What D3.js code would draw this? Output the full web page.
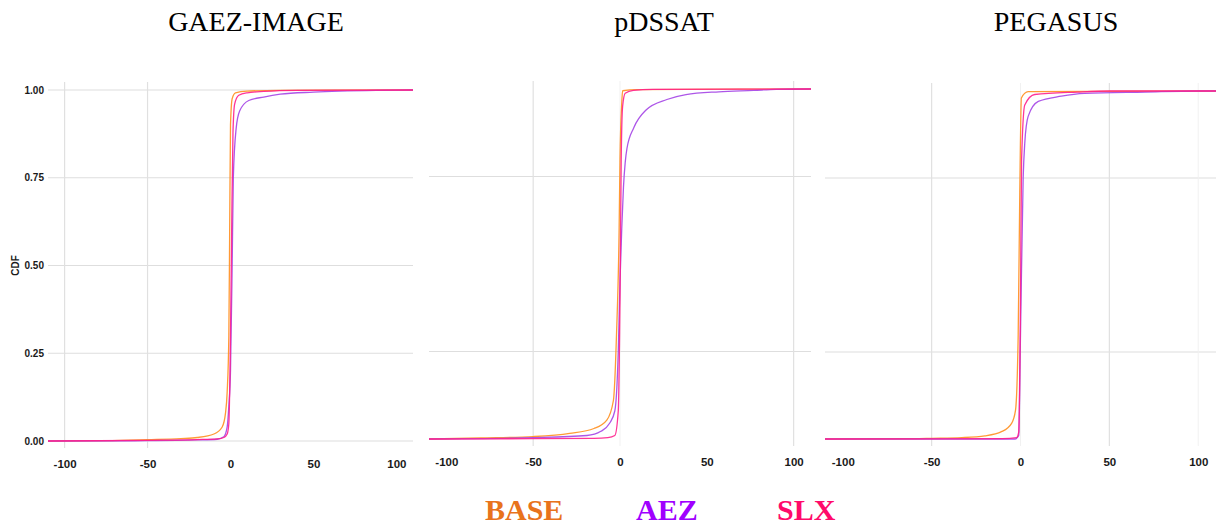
<!DOCTYPE html>
<html>
<head>
<meta charset="utf-8">
<script src="https://cdn.jsdelivr.net/npm/d3@7"></script>
<style>
  html, body { margin: 0; padding: 0; background: #fff; }
  svg { display: block; }
</style>
</head>
<body>
<svg id="chart" width="1216" height="527"></svg>
<script>
// NOTE: chart data
const models = ['GAEZ-IMAGE', 'pDSSAT', 'PEGASUS']
const scenarios = ['BASE', 'AEZ', 'SLX']
const xTicks = [-100, -50, 0, 50, 100]
const yTicks = [0, 0.25, 0.5, 0.75, 1]

// NOTE: [change, cdf] pairs per model and scenario
const gaezBase = [[-110, 0], [-75, 0.001], [-50, 0.004], [-30, 0.007], [-20, 0.01], [-10, 0.02], [-5, 0.04], [-3, 0.08], [-2, 0.14], [-1, 0.3], [-0.5, 0.6], [0, 0.9], [1, 0.975], [3, 0.992], [10, 0.997], [30, 0.999], [110, 1]]
const gaezAez = [[-110, 0], [-50, 0.001], [-20, 0.003], [-8, 0.005], [-4, 0.012], [-2, 0.04], [-1, 0.1], [0, 0.2], [1, 0.5], [1.7, 0.75], [3.4, 0.89], [5.5, 0.94], [11, 0.97], [20, 0.98], [30, 0.988], [50, 0.994], [88, 0.999], [110, 1]]
const gaezSlx = [[-110, 0], [-50, 0.002], [-20, 0.004], [-8, 0.006], [-4, 0.01], [-2, 0.02], [-1, 0.05], [0, 0.3], [0.7, 0.6], [1.5, 0.88], [2.5, 0.96], [5, 0.985], [10, 0.992], [20, 0.996], [40, 0.999], [110, 1]]

const dssatBase = [[-110, 0], [-80, 0.003], [-50, 0.007], [-29, 0.016], [-15, 0.03], [-7.6, 0.054], [-3.8, 0.11], [-2, 0.3], [-0.5, 0.6], [0, 0.8], [1, 0.96], [1.5, 0.995], [10, 0.998], [110, 1]]
const dssatAez = [[-110, 0], [-50, 0.004], [-19, 0.01], [-11, 0.022], [-6, 0.045], [-3, 0.08], [-2, 0.13], [-1, 0.25], [0, 0.45], [1, 0.6], [2, 0.72], [3, 0.79], [4, 0.83], [8, 0.89], [15, 0.94], [27, 0.97], [38, 0.984], [57, 0.992], [77, 0.996], [90, 0.999], [110, 1]]
const dssatSlx = [[-110, 0], [-50, 0.001], [-15, 0.002], [-7, 0.004], [-3, 0.01], [-1, 0.08], [0, 0.4], [0.7, 0.8], [1.5, 0.95], [3, 0.988], [7.7, 0.996], [19, 0.999], [110, 1]]

const pegasusBase = [[-110, 0], [-60, 0.001], [-50, 0.002], [-33, 0.004], [-20, 0.009], [-10.7, 0.021], [-5, 0.045], [-2.8, 0.083], [-1.3, 0.3], [-0.4, 0.71], [0.5, 0.98], [4.3, 0.998], [110, 1]]
const pegasusAez = [[-110, 0], [-3, 0], [-1, 0.01], [0, 0.3], [1.5, 0.75], [2.4, 0.85], [4.3, 0.927], [10, 0.97], [23, 0.985], [36, 0.993], [70, 0.997], [100, 1], [110, 1]]
const pegasusSlx = [[-110, 0], [-10, 0.001], [-2.2, 0.004], [-1, 0.02], [0, 0.4], [0.6, 0.8], [2.4, 0.96], [8, 0.99], [32, 0.997], [50, 1], [110, 1]]

const seriesByModel = [
  [gaezBase, gaezAez, gaezSlx],
  [dssatBase, dssatAez, dssatSlx],
  [pegasusBase, pegasusAez, pegasusSlx],
]

// NOTE: layout of the three panels (pixels)
const panels = [
  { left: 48, right: 413, zeroY: 441, oneY: 90, titleX: 256, yAxis: true, xGrid: [-100, -50], xFaint: [], yGrid: [0, 0.25, 0.5, 0.75, 1] },
  { left: 429, right: 811, zeroY: 439, oneY: 89, titleX: 664, yAxis: false, xGrid: [-50, 100], xFaint: [0], yGrid: [0.25, 0.75] },
  { left: 825, right: 1216, zeroY: 439, oneY: 91, titleX: 1056, yAxis: false, xGrid: [-50, 50], xFaint: [0, 100], yGrid: [0.25, 0.75] },
]

const lineColors = ['#ff8f1f', '#a444e6', '#ff1f8c']
const legendColors = ['#e8731c', '#a000ff', '#ff0a6a']
const legendX = [485, 636, 777]

const svg = d3.select('#chart')

panels.forEach((p, i) => {
  const unit = p.zeroY - p.oneY
  const x = d3.scaleLinear().domain([-110, 110]).range([p.left, p.right])
  const y = d3.scaleLinear().domain([0, 1]).range([p.zeroY, p.oneY])
  const top = p.oneY - 0.023 * unit
  const bottom = p.zeroY + 0.02 * unit

  const g = svg.append('g').attr('class', 'panel')

  // NOTE: grid lines
  g.selectAll('line.hgrid')
    .data(p.yGrid)
    .join('line')
    .attr('class', 'hgrid')
    .attr('x1', p.left)
    .attr('x2', p.right)
    .attr('y1', (d) => y(d))
    .attr('y2', (d) => y(d))
    .attr('stroke', '#dedede')
    .attr('stroke-width', 1.2)

  g.selectAll('line.vgrid')
    .data(p.xGrid)
    .join('line')
    .attr('class', 'vgrid')
    .attr('x1', (d) => x(d))
    .attr('x2', (d) => x(d))
    .attr('y1', top)
    .attr('y2', bottom)
    .attr('stroke', '#e0e0e0')
    .attr('stroke-width', 1.2)

  g.selectAll('line.vfaint')
    .data(p.xFaint)
    .join('line')
    .attr('class', 'vfaint')
    .attr('x1', (d) => x(d))
    .attr('x2', (d) => x(d))
    .attr('y1', top)
    .attr('y2', bottom)
    .attr('stroke', '#f1f1f1')
    .attr('stroke-width', 1)

  // NOTE: x axis labels, plain hyphen as in the source
  const xAxis = d3.axisBottom(x).tickValues(xTicks).tickFormat((d) => String(d)).tickSize(0).tickPadding(0)
  const ax = g.append('g')
    .attr('transform', `translate(0,${p.zeroY + 19})`)
    .call(xAxis)
  ax.select('.domain').remove()
  ax.selectAll('text')
    .attr('font-family', 'Liberation Sans, Arial, sans-serif')
    .attr('font-size', 11.5)
    .attr('font-weight', 'bold')
    .attr('fill', '#1a1a1a')

  // NOTE: y axis only on the first panel
  if (p.yAxis) {
    const yAxis = d3.axisLeft(y).tickValues(yTicks).tickFormat(d3.format('.2f')).tickSize(0).tickPadding(0)
    const ay = g.append('g')
      .attr('transform', `translate(${p.left - 4},0)`)
      .call(yAxis)
    ay.select('.domain').remove()
    ay.selectAll('text')
      .attr('font-family', 'Liberation Sans, Arial, sans-serif')
      .attr('font-size', 10)
      .attr('font-weight', 'bold')
      .attr('fill', '#1a1a1a')

    g.append('text')
      .attr('transform', `translate(19,${y(0.5)}) rotate(-90)`)
      .attr('text-anchor', 'middle')
      .attr('font-family', 'Liberation Sans, Arial, sans-serif')
      .attr('font-size', 10)
      .attr('font-weight', 'bold')
      .attr('fill', '#1a1a1a')
      .text('CDF')
  }

  // NOTE: cdf curves
  const line = d3.line()
    .x((d) => x(d[0]))
    .y((d) => y(d[1]))
    .curve(d3.curveMonotoneX)

  seriesByModel[i].forEach((s, k) => {
    g.append('path')
      .attr('d', line(s))
      .attr('fill', 'none')
      .attr('stroke', lineColors[k])
      .attr('stroke-width', 1.3)
      .attr('stroke-opacity', 0.9)
  })

  // NOTE: model title
  svg.append('text')
    .attr('x', p.titleX)
    .attr('y', 31)
    .attr('text-anchor', 'middle')
    .attr('font-family', 'Liberation Serif, Times New Roman, serif')
    .attr('font-size', 28)
    .attr('fill', '#000')
    .text(models[i])
})

// NOTE: legend
svg.selectAll('text.legend')
  .data(scenarios)
  .join('text')
  .attr('class', 'legend')
  .attr('x', (d, i) => legendX[i])
  .attr('y', 520)
  .attr('font-family', 'Liberation Serif, Times New Roman, serif')
  .attr('font-size', 30)
  .attr('font-weight', 'bold')
  .attr('fill', (d, i) => legendColors[i])
  .text((d) => d)
</script>
</body>
</html>
